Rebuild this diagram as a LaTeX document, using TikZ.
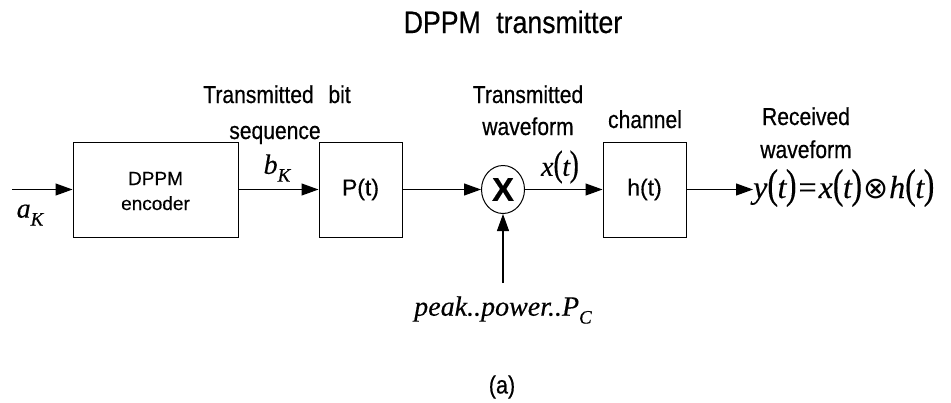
\documentclass[tikz,border=0pt]{standalone}
\usepackage{fontspec}
\setmainfont[FakeStretch=0.86,FakeBold=0.5]{Liberation Sans}
\newfontfamily\boxfont[FakeBold=0.4]{Liberation Sans}
\newfontfamily\tms[FakeBold=0.3]{Liberation Serif}
\newfontfamily\dejavu{DejaVu Sans}
\usepackage{graphicx}
\usetikzlibrary{arrows.meta,shapes.geometric}
\newcommand{\lpar}{{\tms\upshape\scalebox{1}[1.3]{(}}}
\newcommand{\rpar}{{\tms\upshape\scalebox{1}[1.3]{)}}}
\newcommand{\fnarg}[1]{\lpar\kern-0.5pt{\itshape #1}\kern-0.5pt\rpar}
\begin{document}
\begin{tikzpicture}[x=1pt,y=-1pt,
  blk/.style={draw, line width=1pt, rectangle, inner sep=0pt},
  arr/.style={line width=1.1pt, -{Triangle[length=17pt,width=12pt]}},
  lbl/.style={inner sep=0pt, anchor=base, font=\fontsize{24.5}{28}\selectfont},
  mth/.style={inner sep=0pt, font=\tms\itshape\fontsize{28}{32}\selectfont}]
\useasboundingbox (0,0) rectangle (951,402);

% title
\node[lbl, font=\fontsize{31}{36}\selectfont] (title) at (513,33) {DPPM\hspace{0.5em}transmitter};

% blocks
\node[blk, minimum width=165pt, minimum height=95pt] (enc) at (155.5,189.5) {};
\node[blk, minimum width=83pt, minimum height=95pt, font=\boxfont\fontsize{23}{26}\selectfont] (P) at (360.5,189.5) {P(t)};
\node[draw, line width=1pt, ellipse, minimum width=43pt, minimum height=48pt, inner sep=0pt,
      font=\boxfont\bfseries\fontsize{33}{36}\selectfont] (mul) at (503,189.5) {X};
\node[blk, minimum width=83pt, minimum height=95pt, font=\boxfont\fontsize{23}{26}\selectfont] (H) at (644.5,189.5) {h(t)};

% text inside encoder
\node[lbl, font=\boxfont\fontsize{19}{22}\selectfont] (dppm) at (155.5,185) {DPPM};
\node[lbl, font=\boxfont\fontsize{19}{22}\selectfont] (encoder) at (155.5,210) {encoder};

% upper labels
\node[lbl] (tb1) at (277,103) {Transmitted\hspace{0.6em}bit};
\node[lbl] (tb2) at (275,139) {sequence};
\node[lbl] (tw1) at (528,103) {Transmitted};
\node[lbl] (tw2) at (528,135) {waveform};
\node[lbl] (chan) at (645,128) {channel};
\node[lbl] (rw1) at (806,125) {Received};
\node[lbl] (rw2) at (806,158) {waveform};

% math labels
\node[mth] (ak) at (30,215) {a\raisebox{-0.28em}{\fontsize{19}{22}\selectfont K}};
\node[mth] (bk) at (277,168) {b\raisebox{-0.28em}{\fontsize{19}{22}\selectfont K}};
\node[mth] (xt) at (560,167) {x\fnarg{t}};
\node[mth] (pk) at (503,310) {peak..power..P\raisebox{-0.28em}{\fontsize{19}{22}\selectfont C}};
\node[mth, anchor=west, font=\tms\itshape\fontsize{32}{36}\selectfont] (eq) at (753,188)
  {y\fnarg{t}\kern2pt{\upshape=}\kern2pt x\fnarg{t}\kern1pt{\dejavu\upshape\fontsize{30}{34}\selectfont ⊗}\kern1pt h\fnarg{t}};

% caption
\node[inner sep=0pt, font=\fontsize{25}{28}\selectfont] (cap) at (502,387) {(a)};

% connectors
\coordinate (in) at (12,189.5);
\coordinate (pw) at (503,283);
\draw[arr] (in) -- (enc.west);
\draw[arr] (enc.east) -- (P.west);
\draw[arr] (P.east) -- (mul.west);
\draw[arr] (mul.east) -- (H.west);
\draw[arr] (pw) -- (mul.south);
\draw[arr] (H.east) -- (H.east -| eq.west);
\end{tikzpicture}
\end{document}
